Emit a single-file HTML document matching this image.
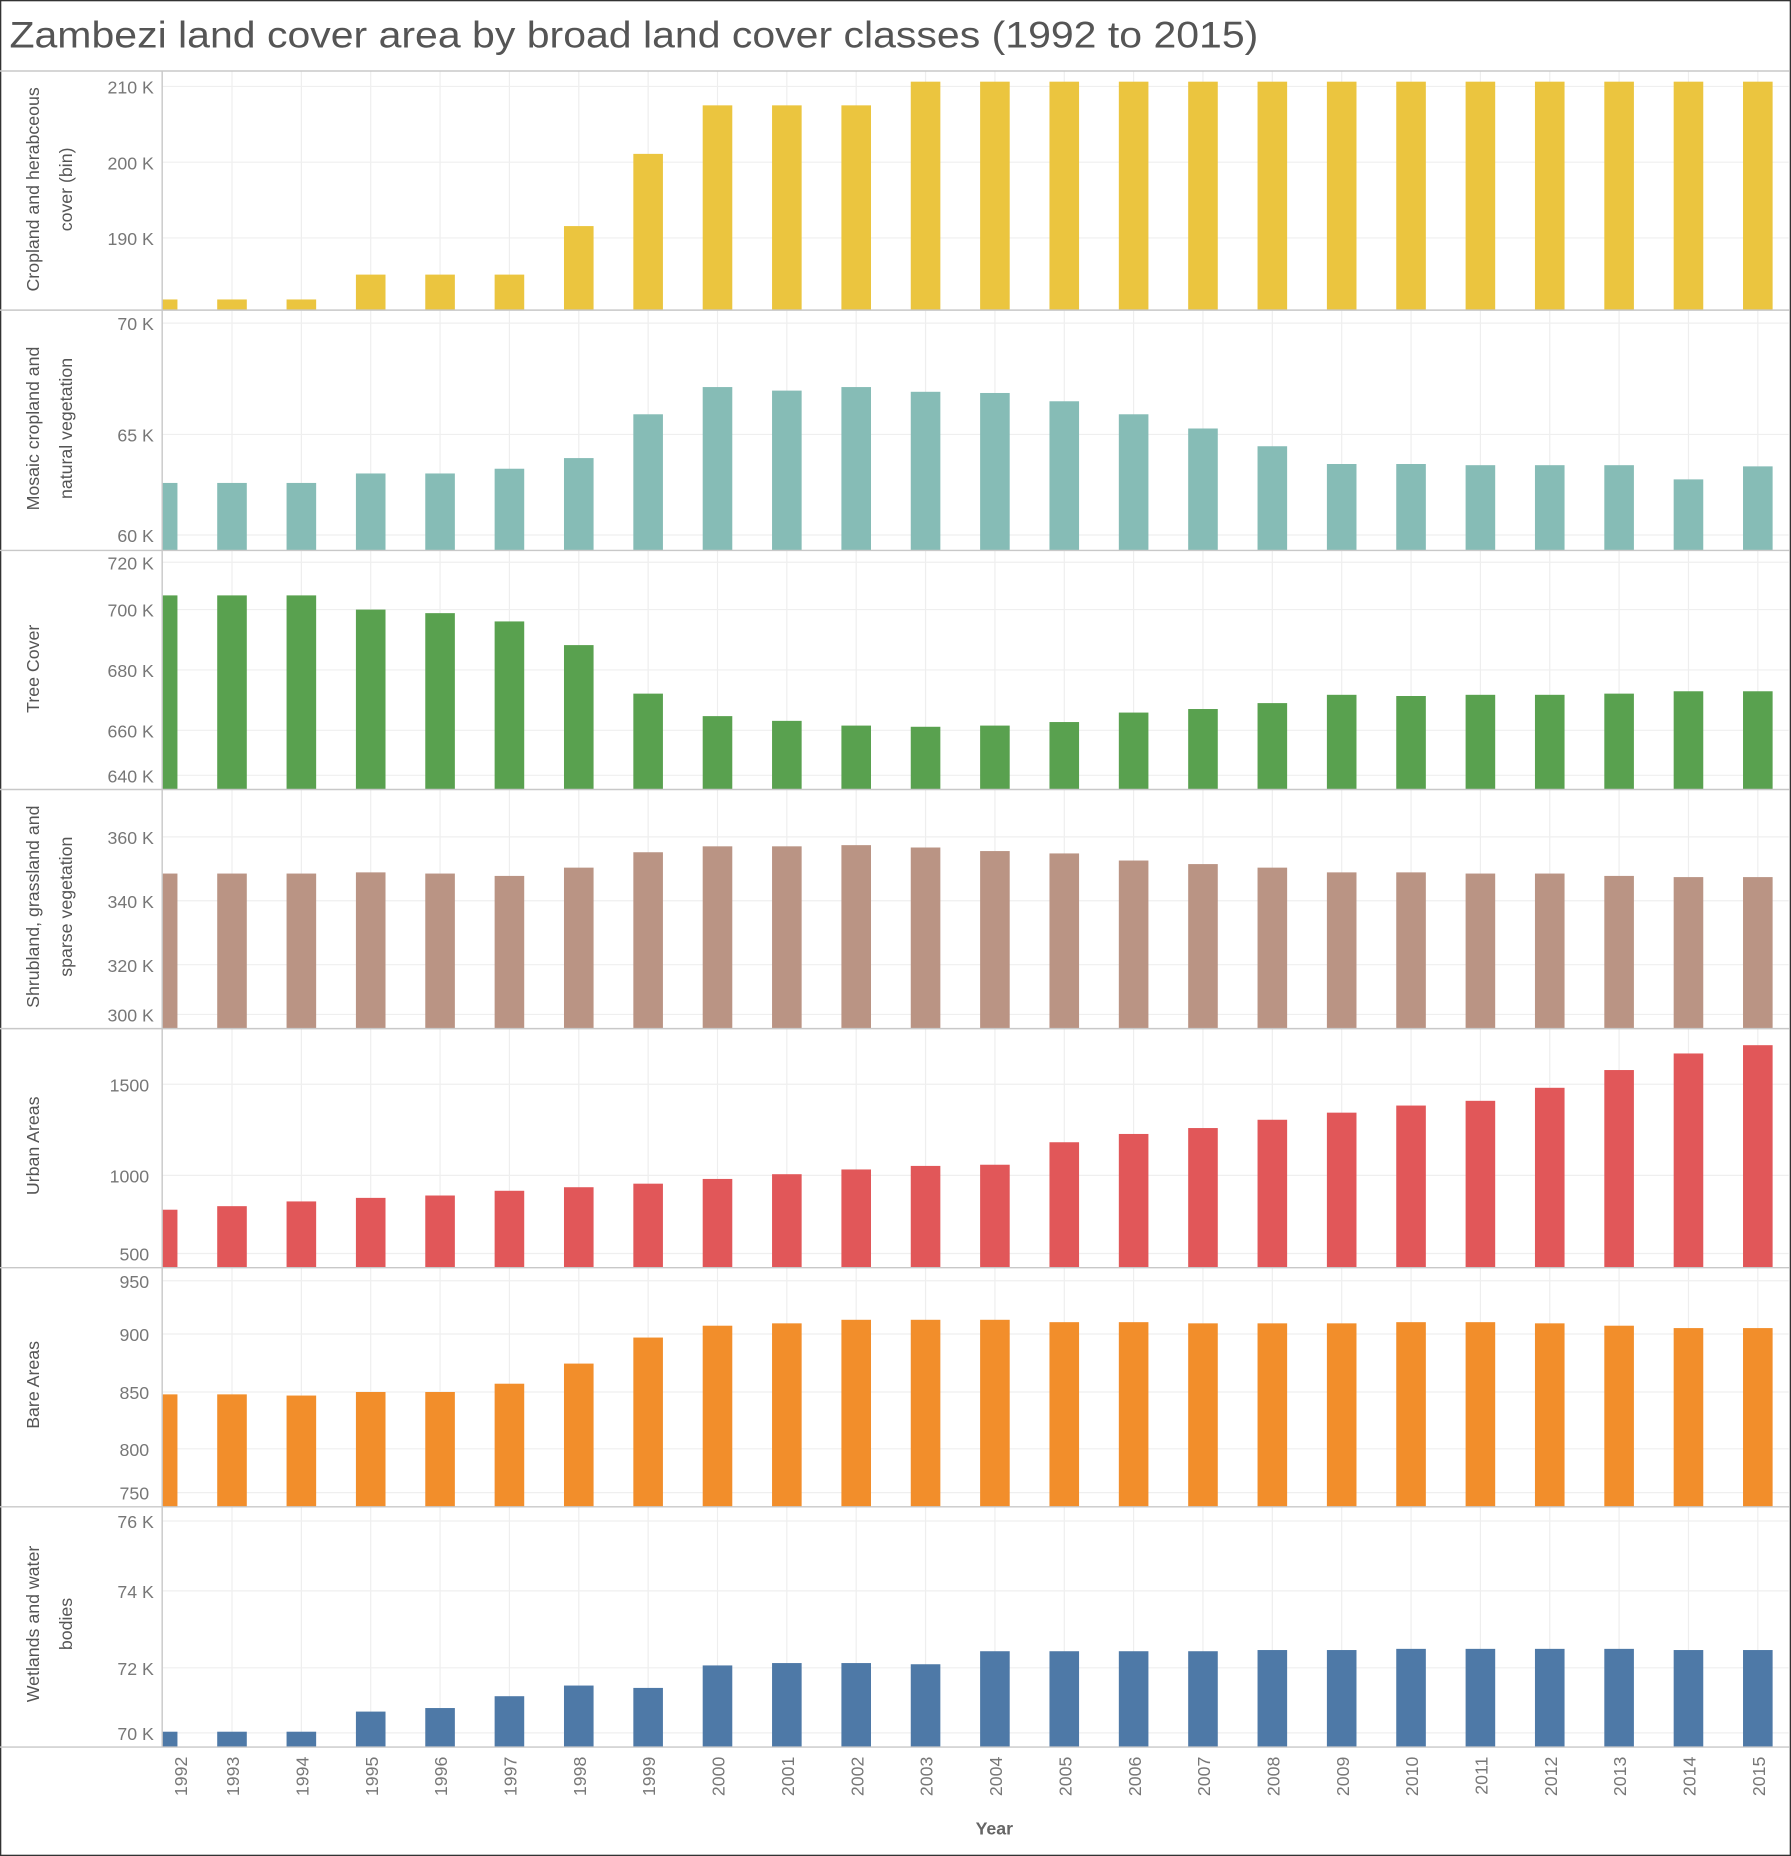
<!DOCTYPE html>
<html><head><meta charset="utf-8"><style>
html,body{margin:0;padding:0;background:#fff;}
svg{display:block;}
text{font-family:"Liberation Sans",sans-serif;}
</style></head><body>
<svg id="c" width="1791" height="1856" viewBox="0 0 1513 1568" preserveAspectRatio="none" xmlns="http://www.w3.org/2000/svg">
<rect x="0.5" y="0.5" width="1512" height="1567" fill="#fff" stroke="#333" stroke-width="1.2"/>
<text x="8" y="40" font-size="31" fill="#555" textLength="1055" lengthAdjust="spacingAndGlyphs">Zambezi land cover area by broad land cover classes (1992 to 2015)</text>
<g id="grid"></g>
<g id="bars"></g>
<g fill="#777" font-size="15" text-anchor="end">
<text x="130" y="79">210 K</text><text x="130" y="143">200 K</text><text x="130" y="207">190 K</text>
<text x="130" y="279">70 K</text><text x="130" y="373">65 K</text><text x="130" y="458">60 K</text>
<text x="130" y="481">720 K</text><text x="130" y="521">700 K</text><text x="130" y="572">680 K</text><text x="130" y="623">660 K</text><text x="130" y="661">640 K</text>
<text x="130" y="713">360 K</text><text x="130" y="767">340 K</text><text x="130" y="821">320 K</text><text x="130" y="863">300 K</text>
<text x="126" y="922">1500</text><text x="126" y="999">1000</text><text x="126" y="1065">500</text>
<text x="126" y="1088">950</text><text x="126" y="1133">900</text><text x="126" y="1182">850</text><text x="126" y="1230">800</text><text x="126" y="1267">750</text>
<text x="130" y="1291">76 K</text><text x="130" y="1350">74 K</text><text x="130" y="1415">72 K</text><text x="130" y="1470">70 K</text>
</g>
<g fill="#555" font-size="15" text-anchor="middle">
<text transform="translate(33,160) rotate(-90)">Cropland and herabceous</text>
<text transform="translate(61,160) rotate(-90)">cover (bin)</text>
<text transform="translate(33,362) rotate(-90)">Mosaic cropland and</text>
<text transform="translate(61,362) rotate(-90)">natural vegetation</text>
<text transform="translate(33,565) rotate(-90)">Tree Cover</text>
<text transform="translate(33,766) rotate(-90)">Shrubland, grassland and</text>
<text transform="translate(61,766) rotate(-90)">sparse vegetation</text>
<text transform="translate(33,968) rotate(-90)">Urban Areas</text>
<text transform="translate(33,1170) rotate(-90)">Bare Areas</text>
<text transform="translate(33,1372) rotate(-90)">Wetlands and water</text>
<text transform="translate(61,1372) rotate(-90)">bodies</text>
</g>
<g fill="#777" font-size="15" text-anchor="end">
<text transform="translate(158,1484) rotate(-90)">1992</text>
<text transform="translate(202,1484) rotate(-90)">1993</text>
<text transform="translate(260.6,1484) rotate(-90)">1994</text>
<text transform="translate(319.2,1484) rotate(-90)">1995</text>
<text transform="translate(377.8,1484) rotate(-90)">1996</text>
<text transform="translate(436.4,1484) rotate(-90)">1997</text>
<text transform="translate(494.9,1484) rotate(-90)">1998</text>
<text transform="translate(553.5,1484) rotate(-90)">1999</text>
<text transform="translate(612.1,1484) rotate(-90)">2000</text>
<text transform="translate(670.7,1484) rotate(-90)">2001</text>
<text transform="translate(729.3,1484) rotate(-90)">2002</text>
<text transform="translate(787.9,1484) rotate(-90)">2003</text>
<text transform="translate(846.5,1484) rotate(-90)">2004</text>
<text transform="translate(905.1,1484) rotate(-90)">2005</text>
<text transform="translate(963.7,1484) rotate(-90)">2006</text>
<text transform="translate(1022.3,1484) rotate(-90)">2007</text>
<text transform="translate(1080.8,1484) rotate(-90)">2008</text>
<text transform="translate(1139.4,1484) rotate(-90)">2009</text>
<text transform="translate(1198,1484) rotate(-90)">2010</text>
<text transform="translate(1256.6,1484) rotate(-90)">2011</text>
<text transform="translate(1315.2,1484) rotate(-90)">2012</text>
<text transform="translate(1373.8,1484) rotate(-90)">2013</text>
<text transform="translate(1432.4,1484) rotate(-90)">2014</text>
<text transform="translate(1491,1484) rotate(-90)">2015</text>
</g>
<text x="840" y="1550" font-size="15" font-weight="bold" fill="#666" text-anchor="middle">Year</text>
</svg>
<script>
(function(){
var NS="http://www.w3.org/2000/svg";
var grid=document.getElementById('grid'),bars=document.getElementById('bars');
function el(p,t,a){var e=document.createElementNS(NS,t);for(var k in a)e.setAttribute(k,a[k]);p.appendChild(e);return e;}
function cxf(i){return 137.4+i*58.59;}
var panels=[
[60,262,"#EBC53F",[253,253,253,232,232,232,191,130,89,89,89,69,69,69,69,69,69,69,69,69,69,69,69,69],[73,137,201]],
[262,465,"#86BCB6",[408,408,408,400,400,396,387,350,327,330,327,331,332,339,350,362,377,392,392,393,393,393,405,394],[273,367,452]],
[465,667,"#59A14F",[503,503,503,515,518,525,545,586,605,609,613,614,613,610,602,599,594,587,588,587,587,586,584,584],[475,515,566,617,655]],
[667,869,"#BA9484",[738,738,738,737,738,740,733,720,715,715,714,716,719,721,727,730,733,737,737,738,738,740,741,741],[707,761,815,857]],
[869,1071,"#E15759",[1022,1019,1015,1012,1010,1006,1003,1000,996,992,988,985,984,965,958,953,946,940,934,930,919,904,890,883],[916,993,1059]],
[1071,1273,"#F28E2B",[1178,1178,1179,1176,1176,1169,1152,1130,1120,1118,1115,1115,1115,1117,1117,1118,1118,1118,1117,1117,1118,1120,1122,1122],[1082,1127,1176,1224,1261]],
[1273,1476,"#4E79A7",[1463,1463,1463,1446,1443,1433,1424,1426,1407,1405,1405,1406,1395,1395,1395,1395,1394,1394,1393,1393,1393,1393,1394,1394],[1285,1344,1409,1464]]
];
for(var i=1;i<24;i++){var cx=cxf(i);el(grid,'line',{x1:cx,y1:60,x2:cx,y2:1476,stroke:'#eeeeee','stroke-width':1});}
panels.forEach(function(p){
 p[4].forEach(function(y){el(grid,'line',{x1:137,y1:y,x2:1511,y2:y,stroke:'#efefef','stroke-width':1});});
 for(var i=0;i<24;i++){var cx=cxf(i),x=cx-12.5,w=25;if(x<137){w-=137-x;x=137;}
  el(bars,'rect',{x:x,y:p[3][i],width:w,height:p[1]-p[3][i],fill:p[2]});}
 el(bars,'line',{x1:0,y1:p[1],x2:1512,y2:p[1],stroke:'#c8c8c8','stroke-width':1.2});
});
el(bars,'line',{x1:0,y1:60,x2:1512,y2:60,stroke:'#c8c8c8','stroke-width':1.2});
el(bars,'line',{x1:137,y1:60,x2:137,y2:1476,stroke:'#c8c8c8','stroke-width':1.2});
})();
</script>
</body></html>
